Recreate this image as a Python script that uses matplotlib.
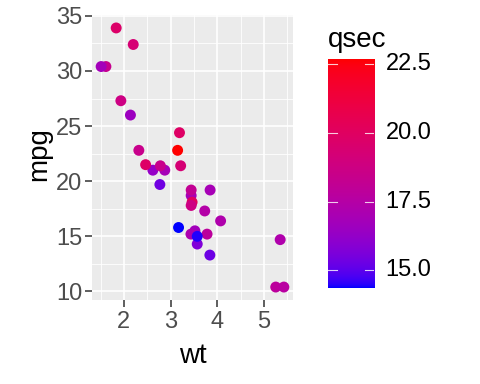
import numpy as np
import matplotlib
matplotlib.use('Agg')
import matplotlib.pyplot as plt

# mtcars data
wt = [2.620, 2.875, 2.320, 3.215, 3.440, 3.460, 3.570, 3.190, 3.150, 3.440,
      3.440, 4.070, 3.730, 3.780, 5.250, 5.424, 5.345, 2.200, 1.615, 1.835,
      2.465, 3.520, 3.435, 3.840, 3.845, 1.935, 2.140, 1.513, 3.170, 2.770,
      3.570, 2.780]
mpg = [21.0, 21.0, 22.8, 21.4, 18.7, 18.1, 14.3, 24.4, 22.8, 19.2,
       17.8, 16.4, 17.3, 15.2, 10.4, 10.4, 14.7, 32.4, 30.4, 33.9,
       21.5, 15.5, 15.2, 13.3, 19.2, 27.3, 26.0, 30.4, 15.8, 19.7,
       15.0, 21.4]
qsec = [16.46, 17.02, 18.61, 19.44, 17.02, 20.22, 15.84, 20.00, 22.90, 18.30,
        18.90, 17.40, 17.60, 18.00, 17.98, 17.82, 17.42, 19.47, 18.52, 19.90,
        20.01, 16.87, 17.30, 15.41, 17.05, 18.90, 16.70, 16.90, 14.50, 15.50,
        14.60, 18.60]
x_ticks = [2, 3, 4, 5]
y_ticks = [10, 15, 20, 25, 30, 35]
c_ticks = [15.0, 17.5, 20.0, 22.5]
c_labels = ["15.0", "17.5", "20.0", "22.5"]

# --- Lab interpolation between blue and red (like scales::seq_gradient_pal)
def srgb_to_lin(c):
    c = np.asarray(c, float)
    return np.where(c <= 0.04045, c / 12.92, ((c + 0.055) / 1.055) ** 2.4)

def lin_to_srgb(c):
    c = np.clip(c, 0, 1)
    return np.where(c <= 0.0031308, 12.92 * c, 1.055 * c ** (1 / 2.4) - 0.055)

M = np.array([[0.4124, 0.3576, 0.1805],
              [0.2126, 0.7152, 0.0722],
              [0.0193, 0.1192, 0.9505]])
Minv = np.linalg.inv(M)
WHITE = M @ np.ones(3)

def f(t):
    d = 6 / 29
    return np.where(t > d ** 3, np.cbrt(t), t / (3 * d * d) + 4 / 29)

def finv(t):
    d = 6 / 29
    return np.where(t > d, t ** 3, 3 * d * d * (t - 4 / 29))

def rgb_to_lab(rgb):
    xyz = M @ srgb_to_lin(rgb) / WHITE
    fx, fy, fz = f(xyz)
    return np.array([116 * fy - 16, 500 * (fx - fy), 200 * (fy - fz)])

def lab_to_rgb(lab):
    L, a, b = lab
    fy = (L + 16) / 116
    fx = fy + a / 500
    fz = fy - b / 200
    xyz = np.array([finv(fx), finv(fy), finv(fz)]) * WHITE
    return lin_to_srgb(Minv @ xyz)

LAB_LO = rgb_to_lab([0, 0, 1])
LAB_HI = rgb_to_lab([1, 0, 0])

def grad(t):
    t = float(np.clip(t, 0, 1))
    return tuple(np.clip(lab_to_rgb(LAB_LO + (LAB_HI - LAB_LO) * t), 0, 1))

qmin, qmax = min(qsec), max(qsec)
colors = [grad((q - qmin) / (qmax - qmin)) for q in qsec]

plt.rcParams['font.family'] = ['Liberation Sans', 'DejaVu Sans']
W, H = 480, 384
fig = plt.figure(figsize=(W / 100, H / 100), dpi=100)

def px_axes(x0, y0, x1, y1):
    return fig.add_axes([x0 / W, 1 - y1 / H, (x1 - x0) / W, (y1 - y0) / H])

ax = px_axes(92, 15, 293, 300)
ax.set_facecolor('#EBEBEB')
xr = max(wt) - min(wt)
yr = max(mpg) - min(mpg)
ax.set_xlim(min(wt) - 0.05 * xr, max(wt) + 0.05 * xr)
ax.set_ylim(min(mpg) - 0.05 * yr, max(mpg) + 0.05 * yr)
for v in [1.5, 2.5, 3.5, 4.5, 5.5]:
    ax.axvline(v, color='white', lw=0.6, zorder=0)
for v in [12.5, 17.5, 22.5, 27.5, 32.5]:
    ax.axhline(v, color='white', lw=0.6, zorder=0)
for v in x_ticks:
    ax.axvline(v, color='white', lw=1.2, zorder=0)
for v in y_ticks:
    ax.axhline(v, color='white', lw=1.2, zorder=0)
ax.scatter(wt, mpg, c=colors, s=62, edgecolors='none', zorder=3)
ax.set_xticks(x_ticks)
ax.set_yticks(y_ticks)
ax.tick_params(axis='both', length=4.7, width=1.1, color='#333333',
               labelcolor='#4D4D4D', labelsize=17)
ax.tick_params(axis='x', pad=3.0)
ax.tick_params(axis='y', pad=2.5)
for s in ax.spines.values():
    s.set_visible(False)

fig.text(192.5 / W, 1 - 363.3 / H, 'wt', fontsize=20, ha='center', va='baseline')
fig.text(52 / W, 1 - 154 / H, 'mpg', fontsize=20, ha='right', va='center',
         rotation=90)

# colorbar
lo, hi = 14.345, 22.69
cax = px_axes(327.5, 59, 374, 288.3)
nb = 300
vals = np.linspace(0, 1, nb)
img = np.array([grad(t) for t in vals])[:, None, :]
cax.imshow(img, origin='lower', aspect='auto', extent=[0, 1, lo, hi],
           interpolation='bilinear')
cax.set_xlim(0, 1)
cax.set_ylim(lo, hi)
for v in c_ticks:
    cax.plot([0, 0.2], [v, v], color='white', lw=0.8, alpha=0.8)
    cax.plot([0.8, 1], [v, v], color='white', lw=0.8, alpha=0.8)
cax.set_xticks([])
cax.set_yticks([])
for s in cax.spines.values():
    s.set_visible(False)
for v, lab in zip(c_ticks, c_labels):
    cax.text(1.25, v, lab, transform=cax.get_yaxis_transform(), fontsize=17,
             ha='left', va='center', color='black')
fig.text(328 / W, 1 - 46.7 / H, 'qsec', fontsize=20, ha='left', va='baseline')

fig.savefig('out.png', dpi=100)
